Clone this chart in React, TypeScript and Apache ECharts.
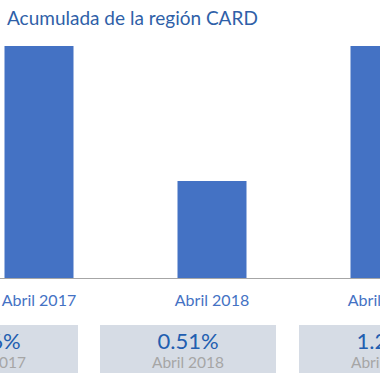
import React, { useEffect, useRef } from "react";
import * as echarts from "echarts";

const title = "Acumulada de la región CARD";
const categories = ["Abril 2017", "Abril 2018", "Abril 2019"];
const values = [1.26, 0.51, 1.26];
const valueLabels = ["1.26%", "0.51%", "1.26%"];

const FONT = "Lato";

export default function App() {
  const ref = useRef<HTMLDivElement>(null);
  useEffect(() => {
    const chart = echarts.init(ref.current!, null, { renderer: "svg" });
    const boxW = 176;
    const boxCenters = [-10, 188, 387];
    const graphics: any[] = [];
    categories.forEach((c, i) => {
      const cx = boxCenters[i];
      graphics.push({
        type: "rect",
        shape: { x: cx - boxW / 2, y: 325, width: boxW, height: 48 },
        style: { fill: "#d6dce5" },
        silent: true,
      });
      graphics.push({
        type: "text",
        x: cx,
        y: 340,
        style: {
          text: valueLabels[i],
          fill: "#225eb0",
          font: `22px ${FONT}`,
          textAlign: "center",
          textVerticalAlign: "middle",
        },
      });
      graphics.push({
        type: "text",
        x: cx,
        y: 362,
        style: {
          text: c,
          fill: "#a6a6a6",
          font: `15.5px ${FONT}`,
          textAlign: "center",
          textVerticalAlign: "middle",
        },
      });
    });
    chart.setOption({
      animation: false,
      title: {
        text: title,
        left: 2,
        top: 3,
        textStyle: { color: "#2f5fa8", fontSize: 19, fontWeight: "normal", fontFamily: FONT },
      },
      grid: {
        left: -47.5,
        width: 519,
        top: 46,
        bottom: 102,
        containLabel: false,
        outerBoundsMode: "none",
      },
      xAxis: {
        type: "category",
        data: categories,
        axisTick: { show: false },
        axisLine: { lineStyle: { color: "#a6a6a6", width: 1 } },
        axisLabel: { color: "#4472c4", fontSize: 16, fontFamily: FONT, margin: 13 },
      },
      yAxis: {
        type: "value",
        min: 0,
        max: 1.22,
        show: false,
        splitLine: { show: false },
      },
      series: [
        {
          type: "bar",
          data: values,
          barWidth: 69,
          clip: true,
          itemStyle: { color: "#4472c4" },
        },
      ],
      graphic: graphics,
    });
    return () => chart.dispose();
  }, []);
  return (
    <div
      ref={ref}
      style={{ position: "fixed", left: 0, top: 0, width: 380, height: 380, background: "#fff" }}
    />
  );
}
